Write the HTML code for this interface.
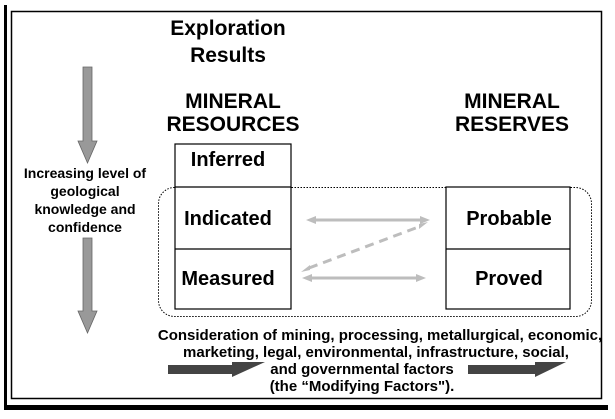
<!DOCTYPE html>
<html><head><style>
body{margin:0;width:615px;height:414px;background:#fff;overflow:hidden;font-family:"Liberation Sans",Arial,sans-serif;}
</style></head><body>
<svg width="615" height="414" xmlns="http://www.w3.org/2000/svg" font-family="Liberation Sans, Arial, sans-serif" font-weight="bold">
<rect x="4" y="5" width="3" height="405" fill="#000"/>
<rect x="4" y="405" width="604" height="5" fill="#000"/>
<rect x="11.5" y="11.5" width="590" height="387" fill="none" stroke="#000" stroke-width="1.5"/>
<g text-anchor="middle" font-size="21">
<text x="228" y="35">Exploration</text>
<text x="228" y="62">Results</text>
<text x="233" y="108">MINERAL</text>
<text x="233" y="131">RESOURCES</text>
<text x="512" y="108">MINERAL</text>
<text x="512" y="131">RESERVES</text>
</g>
<rect x="158.5" y="187.5" width="433" height="129" rx="16" fill="none" stroke="#000" stroke-dasharray="1.5,1.5"/>
<g fill="#fff" stroke="#000" stroke-width="1.2">
<rect x="175" y="144" width="116" height="165"/>
<line x1="175" y1="187" x2="291" y2="187"/><line x1="175" y1="249" x2="291" y2="249"/>
<rect x="446" y="187" width="124" height="122"/>
<line x1="446" y1="249" x2="570" y2="249"/>
</g>
<g font-size="20" text-anchor="middle">
<text x="228" y="166">Inferred</text>
<text x="228" y="225">Indicated</text>
<text x="228" y="285">Measured</text>
<text x="509" y="225">Probable</text>
<text x="509" y="285">Proved</text>
</g>
<g fill="#bdbdbd">
<path d="M306 220 L316 216 L316 218.5 L420 218.5 L420 216 L430 220 L420 224 L420 221.5 L316 221.5 L316 224 Z"/>
<path d="M302 278 L312 274 L312 276.5 L416 276.5 L416 274 L426 278 L416 282 L416 279.5 L312 279.5 L312 282 Z"/>
<path d="M301 272 L310 265 L310 270 Z"/><path d="M428 222 L419 229 L419 224 Z"/>
</g>
<line x1="309" y1="268" x2="421" y2="226" stroke="#bdbdbd" stroke-width="3" stroke-dasharray="9,6"/>
<g fill="#999" stroke="#666" stroke-width="0.8">
<path d="M83 67 H92 V141 H97 L87.5 163 L78 141 H83 Z"/>
<path d="M83 238 H92 V311 H97 L87.5 333 L78 311 H83 Z"/>
</g>
<g font-size="14" text-anchor="middle">
<text x="85" y="178">Increasing level of</text>
<text x="85" y="196">geological</text>
<text x="85" y="214">knowledge and</text>
<text x="85" y="232">confidence</text>
</g>
<g font-size="15" text-anchor="middle">
<text x="380" y="340">Consideration of mining, processing, metallurgical, economic,</text>
<text x="376" y="357">marketing, legal, environmental, infrastructure, social,</text>
<text x="362" y="374">and governmental factors</text>
<text x="362" y="391">(the “Modifying Factors").</text>
</g>
<g fill="#444">
<path d="M168 365 H232 V362 H265 L232 377 V374 H168 Z"/>
<path d="M468 365 H535 V362 H566 L535 377 V374 H468 Z"/>
</g>
</svg>
</body></html>
